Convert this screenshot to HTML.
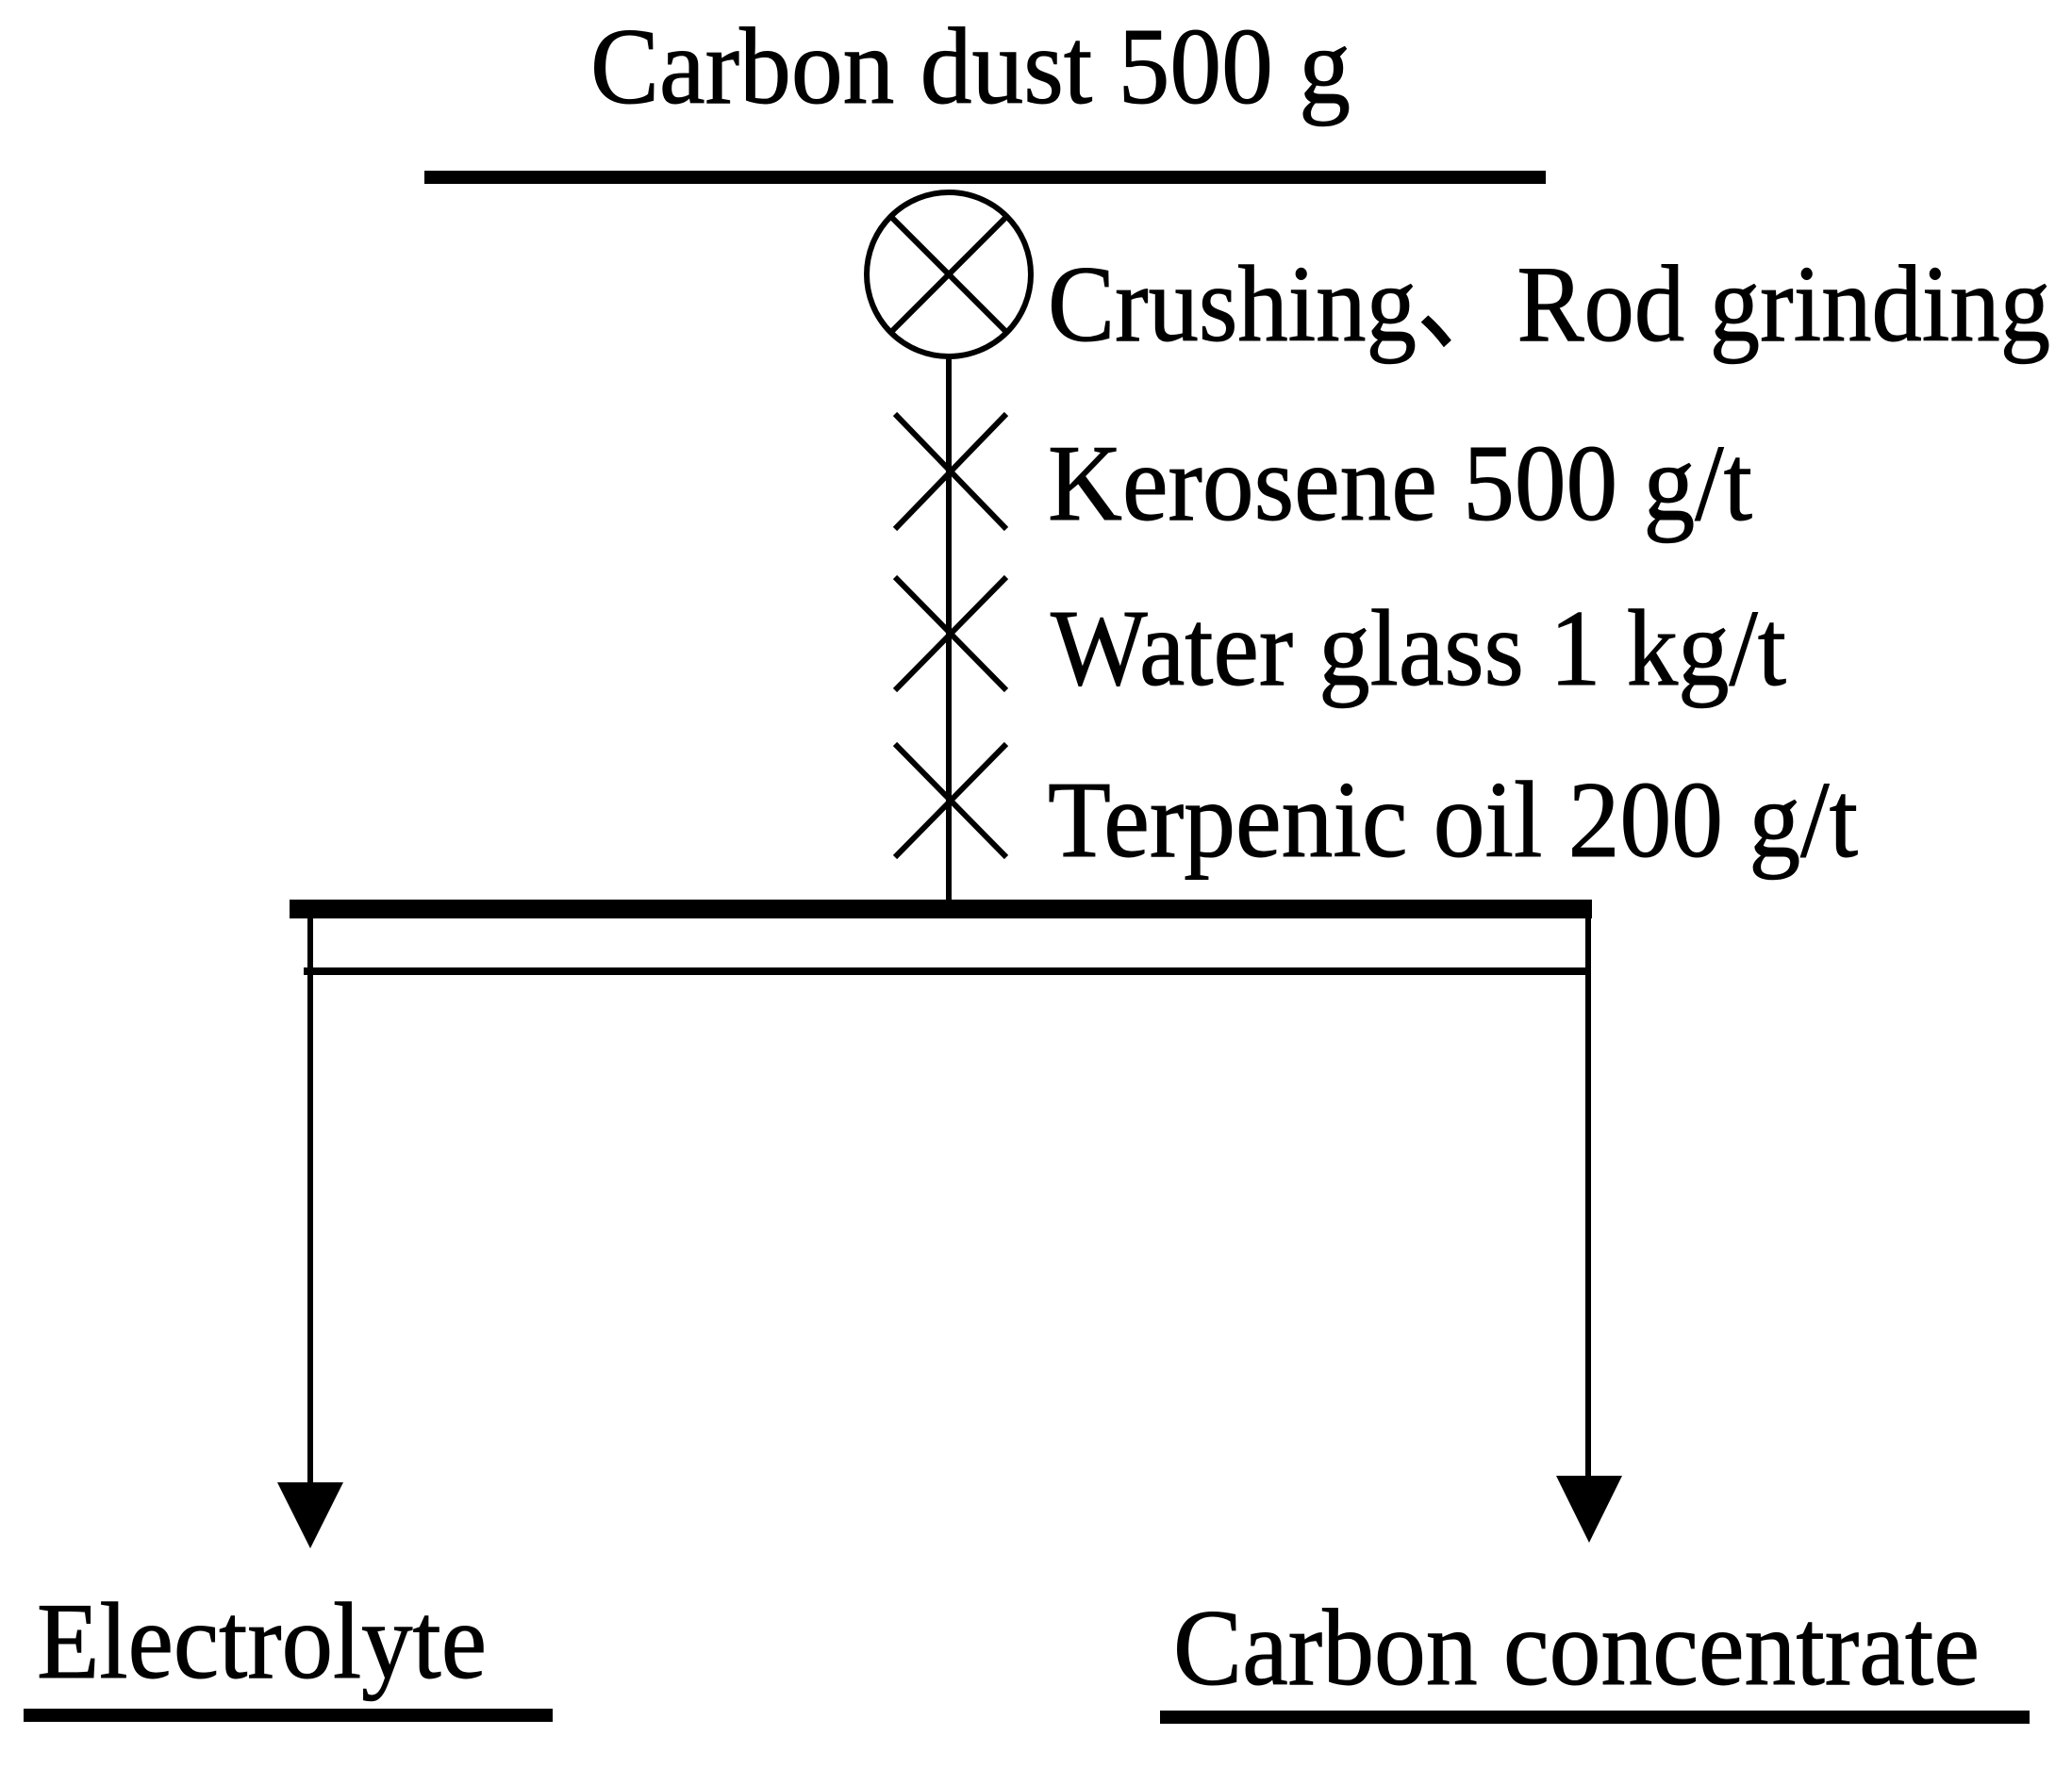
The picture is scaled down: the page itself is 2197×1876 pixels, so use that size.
<!DOCTYPE html>
<html><head><style>html,body{margin:0;padding:0;background:#fff}svg{display:block}</style></head>
<body>
<svg width="2197" height="1876" viewBox="0 0 2197 1876" xmlns="http://www.w3.org/2000/svg">
<g font-family="'Liberation Serif', serif" font-size="116" fill="#000" stroke="#000" stroke-width="1">
<text x="626" y="109" textLength="806" lengthAdjust="spacingAndGlyphs">Carbon dust 500 g</text>
<text x="1111" y="361" textLength="1063" lengthAdjust="spacingAndGlyphs">Crushing、Rod grinding</text>
<text x="1111" y="551" textLength="747" lengthAdjust="spacingAndGlyphs">Kerosene 500 g/t</text>
<text x="1114" y="726" textLength="780" lengthAdjust="spacingAndGlyphs">Water glass 1 kg/t</text>
<text x="1111" y="908" textLength="859" lengthAdjust="spacingAndGlyphs">Terpenic oil 200 g/t</text>
<text x="39" y="1779" textLength="477" lengthAdjust="spacingAndGlyphs">Electrolyte</text>
<text x="1244" y="1786" textLength="855" lengthAdjust="spacingAndGlyphs">Carbon concentrate</text>
</g>
<g stroke="#000" fill="none">
<line x1="450" y1="188" x2="1639" y2="188" stroke-width="14"/>
<circle cx="1006" cy="291" r="87" stroke-width="6"/>
<line x1="944" y1="229" x2="1068" y2="353" stroke-width="6"/>
<line x1="1068" y1="229" x2="944" y2="353" stroke-width="6"/>
<line x1="1006" y1="378" x2="1006" y2="960" stroke-width="6"/>
<line x1="949" y1="439" x2="1067" y2="561" stroke-width="6"/>
<line x1="1067" y1="439" x2="949" y2="561" stroke-width="6"/>
<line x1="949" y1="612" x2="1067" y2="732" stroke-width="6"/>
<line x1="1067" y1="612" x2="949" y2="732" stroke-width="6"/>
<line x1="949" y1="789" x2="1067" y2="909" stroke-width="6"/>
<line x1="1067" y1="789" x2="949" y2="909" stroke-width="6"/>
<line x1="307" y1="964" x2="1688" y2="964" stroke-width="20"/>
<line x1="322" y1="1030" x2="1684" y2="1030" stroke-width="8"/>
<line x1="329" y1="964" x2="329" y2="1580" stroke-width="6"/>
<line x1="1684" y1="964" x2="1684" y2="1575" stroke-width="6"/>
<line x1="25" y1="1819" x2="586" y2="1819" stroke-width="14"/>
<line x1="1230" y1="1821" x2="2152" y2="1821" stroke-width="14"/>
</g>
<polygon points="294,1572 364,1572 329,1642" fill="#000"/>
<polygon points="1650,1565 1720,1565 1685,1636" fill="#000"/>
</svg>
</body></html>
